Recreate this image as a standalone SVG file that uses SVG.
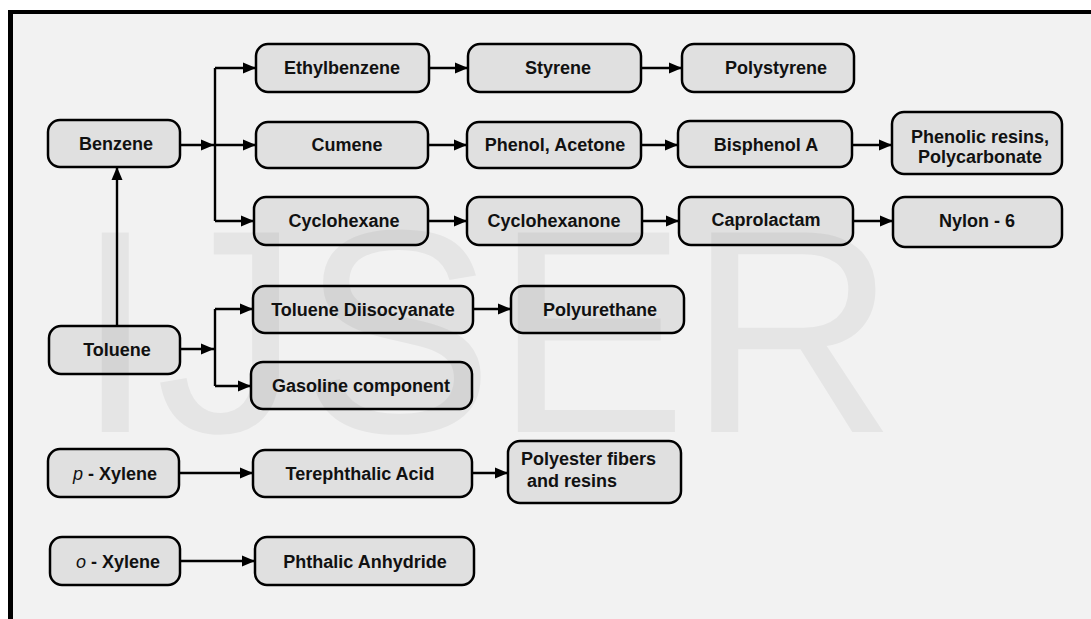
<svg xmlns="http://www.w3.org/2000/svg" width="1091" height="619" viewBox="0 0 1091 619">
<style>
.box{fill:#e0e0e0;stroke:#000;stroke-width:2.5}
.t{font-family:"Liberation Sans",Arial,sans-serif;font-weight:bold;font-size:18px;fill:#111;text-anchor:middle}
.ts{font-family:"Liberation Sans",Arial,sans-serif;font-weight:bold;font-size:18px;fill:#111;text-anchor:start}
.c{fill:none;stroke:#000;stroke-width:2.4}
.wm{font-family:"Liberation Sans",Arial,sans-serif;font-size:290px;fill:#000;fill-opacity:0.05}
</style>
<defs>
<marker id="ah" markerUnits="userSpaceOnUse" markerWidth="14" markerHeight="12" refX="13" refY="6" orient="auto">
<path d="M0,0.5 L13,6 L0,11.5 z" fill="#000"/>
</marker>
</defs>
<rect x="0" y="0" width="1091" height="619" fill="#fff"/>
<rect x="10" y="12" width="1081" height="607" fill="#f2f2f2"/>
<line x1="8" y1="12" x2="1091" y2="12" stroke="#000" stroke-width="4"/>
<line x1="10.5" y1="10" x2="10.5" y2="619" stroke="#000" stroke-width="5"/>

<g id="connectors">
<path class="c" d="M180,145 H214" marker-end="url(#ah)"/>
<path class="c" d="M215,145 H256" marker-end="url(#ah)"/>
<path class="c" d="M215,68 V221"/>
<path class="c" d="M215,68 H256" marker-end="url(#ah)"/>
<path class="c" d="M215,221 H254" marker-end="url(#ah)"/>
<path class="c" d="M117,326 V167" marker-end="url(#ah)"/>
<path class="c" d="M429,68 H468" marker-end="url(#ah)"/>
<path class="c" d="M641,68 H682" marker-end="url(#ah)"/>
<path class="c" d="M428,145 H467" marker-end="url(#ah)"/>
<path class="c" d="M641,145 H678" marker-end="url(#ah)"/>
<path class="c" d="M852,145 H892" marker-end="url(#ah)"/>
<path class="c" d="M428,221 H467" marker-end="url(#ah)"/>
<path class="c" d="M642,221 H679" marker-end="url(#ah)"/>
<path class="c" d="M853,221 H893" marker-end="url(#ah)"/>
<path class="c" d="M180,349 H214" marker-end="url(#ah)"/>
<path class="c" d="M215,309 V386"/>
<path class="c" d="M215,309 H253" marker-end="url(#ah)"/>
<path class="c" d="M215,386 H251" marker-end="url(#ah)"/>
<path class="c" d="M473,309 H511" marker-end="url(#ah)"/>
<path class="c" d="M179,473 H253" marker-end="url(#ah)"/>
<path class="c" d="M472,473 H508" marker-end="url(#ah)"/>
<path class="c" d="M180,561 H255" marker-end="url(#ah)"/>
</g>

<g id="benzene"><rect class="box" x="48" y="120" width="132" height="47" rx="12"/><text class="t" x="116" y="150">Benzene</text></g>
<g id="ethylbenzene"><rect class="box" x="256" y="44" width="173" height="48" rx="12"/><text class="t" x="342" y="74">Ethylbenzene</text></g>
<g id="styrene"><rect class="box" x="468" y="44" width="173" height="48" rx="12"/><text class="t" x="558" y="74">Styrene</text></g>
<g id="polystyrene"><rect class="box" x="682" y="44" width="172" height="48" rx="12"/><text class="t" x="776" y="74">Polystyrene</text></g>
<g id="cumene"><rect class="box" x="256" y="122" width="172" height="46" rx="12"/><text class="t" x="347" y="151">Cumene</text></g>
<g id="phenol-acetone"><rect class="box" x="467" y="122" width="174" height="46" rx="12"/><text class="t" x="555" y="151">Phenol, Acetone</text></g>
<g id="bisphenol-a"><rect class="box" x="678" y="121" width="174" height="46" rx="12"/><text class="t" x="766" y="151">Bisphenol A</text></g>
<g id="phenolic-resins"><rect class="box" x="892" y="112" width="170" height="62" rx="12"/><text class="t" x="980" y="143">Phenolic resins,</text><text class="t" x="980" y="163">Polycarbonate</text></g>
<g id="cyclohexane"><rect class="box" x="254" y="197" width="174" height="48" rx="12"/><text class="t" x="344" y="227">Cyclohexane</text></g>
<g id="cyclohexanone"><rect class="box" x="467" y="197" width="175" height="48" rx="12"/><text class="t" x="554" y="227">Cyclohexanone</text></g>
<g id="caprolactam"><rect class="box" x="679" y="197" width="174" height="48" rx="12"/><text class="t" x="766" y="226">Caprolactam</text></g>
<g id="nylon-6"><rect class="box" x="893" y="197" width="169" height="50" rx="12"/><text class="t" x="977" y="227">Nylon - 6</text></g>
<g id="toluene"><rect class="box" x="49" y="326" width="131" height="48" rx="12"/><text class="t" x="117" y="356">Toluene</text></g>
<g id="toluene-diisocyanate"><rect class="box" x="253" y="286" width="220" height="47" rx="12"/><text class="t" x="363" y="316">Toluene Diisocyanate</text></g>
<g id="gasoline-component"><rect class="box" x="251" y="362" width="221" height="47" rx="12"/><text class="t" x="361" y="392">Gasoline component</text></g>
<g id="polyurethane"><rect class="box" x="511" y="286" width="173" height="47" rx="12"/><text class="t" x="600" y="316">Polyurethane</text></g>
<g id="p-xylene"><rect class="box" x="48" y="449" width="131" height="48" rx="12"/><text class="t" x="115" y="480"><tspan font-style="italic" font-weight="normal">p</tspan> - Xylene</text></g>
<g id="terephthalic-acid"><rect class="box" x="253" y="450" width="219" height="47" rx="12"/><text class="t" x="360" y="480">Terephthalic Acid</text></g>
<g id="polyester"><rect class="box" x="508" y="441" width="173" height="62" rx="12"/><text class="ts" x="521" y="465">Polyester fibers</text><text class="ts" x="527" y="487">and resins</text></g>
<g id="o-xylene"><rect class="box" x="50" y="537" width="130" height="48" rx="12"/><text class="t" x="118" y="568"><tspan font-style="italic" font-weight="normal">o</tspan> - Xylene</text></g>
<g id="phthalic-anhydride"><rect class="box" x="255" y="537" width="219" height="48" rx="12"/><text class="t" x="365" y="568">Phthalic Anhydride</text></g>

<text class="wm" x="75" y="432">IJSER</text>
</svg>
